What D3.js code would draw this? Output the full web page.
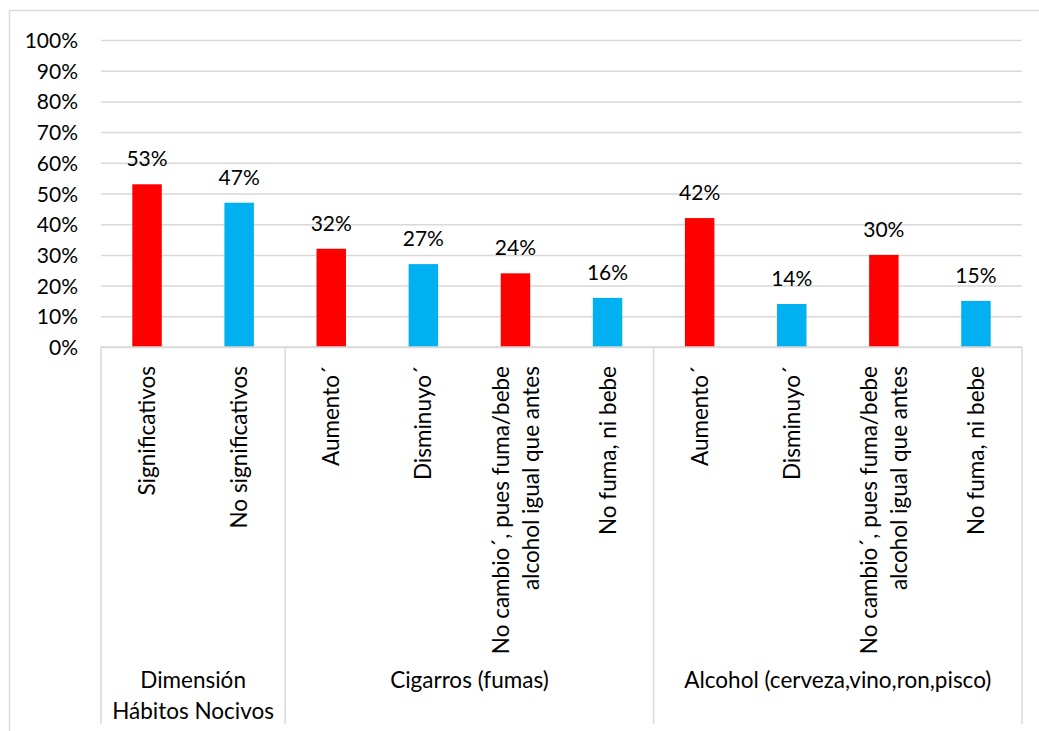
<!DOCTYPE html>
<html>
<head>
<meta charset="utf-8">
<script src="https://cdn.jsdelivr.net/npm/d3@7"></script>
<style>
  html, body { margin: 0; padding: 0; background: #fff; }
  svg { display: block; }
  text { font-family: Lato, "Open Sans", "Noto Sans", sans-serif; fill: #000; }
</style>
</head>
<body>
<svg id="chart" width="1039" height="731"></svg>
<script>
// Category labels (line breaks marked with \n), grouped under three headings
const categories = [
  "Significativos",
  "No significativos",
  "Aumento´",
  "Disminuyo´",
  "No cambio´, pues fuma/bebe\nalcohol igual que antes",
  "No fuma, ni bebe",
  "Aumento´",
  "Disminuyo´",
  "No cambio´, pues fuma/bebe\nalcohol igual que antes",
  "No fuma, ni bebe"
];
const values = [0.53, 0.47, 0.32, 0.27, 0.24, 0.16, 0.42, 0.14, 0.30, 0.15];
const barColors = ["#ff0000", "#00b0f0", "#ff0000", "#00b0f0", "#ff0000",
                   "#00b0f0", "#ff0000", "#00b0f0", "#ff0000", "#00b0f0"];
const groups = [
  { label: "Dimensión\nHábitos Nocivos", start: 0, end: 2 },
  { label: "Cigarros (fumas)", start: 2, end: 6 },
  { label: "Alcohol (cerveza,vino,ron,pisco)", start: 6, end: 10 }
];
const yTicks = [0, 0.1, 0.2, 0.3, 0.4, 0.5, 0.6, 0.7, 0.8, 0.9, 1.0];

const svg = d3.select("#chart");
const W = 1039, H = 731;
const plot = { left: 101, right: 1022, top: 40, bottom: 347 };
const gridColor = "#d9d9d9";
const numSize = 21;   // tick and value labels
const textSize = 22.5; // category and group labels

// Outer frame (runs past the right and bottom edges)
svg.append("rect")
  .attr("x", 9.5).attr("y", 10.5)
  .attr("width", W + 20).attr("height", H + 20)
  .attr("fill", "#fff").attr("stroke", gridColor).attr("stroke-width", 1.5);

const idx = d3.range(categories.length);
const x = d3.scaleBand().domain(idx).range([plot.left, plot.right]).paddingInner(0).paddingOuter(0);
const y = d3.scaleLinear().domain([0, 1]).range([plot.bottom, plot.top]);
const barW = x.bandwidth() * 0.32;

// Horizontal gridlines with percentage ticks
const yAxis = d3.axisLeft(y).tickValues(yTicks).tickFormat(d3.format(".0%"))
  .tickSize(-(plot.right - plot.left)).tickPadding(23);
const gy = svg.append("g").attr("transform", `translate(${plot.left},0)`).call(yAxis);
gy.select(".domain").remove();
gy.selectAll(".tick line").attr("stroke", gridColor).attr("stroke-width", 1.5);
gy.selectAll(".tick text")
  .attr("font-size", numSize).attr("font-family", "Lato, 'Open Sans', sans-serif")
  .attr("fill", "#000").attr("dy", "0.36em");

// Bars
svg.append("g").selectAll("rect").data(idx).join("rect")
  .attr("x", i => x(i) + x.bandwidth() / 2 - barW / 2)
  .attr("y", i => y(values[i]))
  .attr("width", barW)
  .attr("height", i => y(0) - y(values[i]))
  .attr("fill", i => barColors[i]);

// Value labels above bars
svg.append("g").selectAll("text").data(idx).join("text")
  .attr("x", i => x(i) + x.bandwidth() / 2)
  .attr("y", i => y(values[i]) - 18)
  .attr("text-anchor", "middle")
  .attr("font-size", numSize)
  .text(i => d3.format(".0%")(values[i]));

// Category axis: base line and group separators
const sepBottom = 724;
svg.append("line")
  .attr("x1", plot.left).attr("x2", plot.right)
  .attr("y1", plot.bottom).attr("y2", plot.bottom)
  .attr("stroke", gridColor).attr("stroke-width", 1.5);
const seps = [0, ...groups.map(g => g.end)];
svg.append("g").selectAll("line").data(seps).join("line")
  .attr("x1", d => d < categories.length ? x(d) : plot.right)
  .attr("x2", d => d < categories.length ? x(d) : plot.right)
  .attr("y1", plot.bottom).attr("y2", sepBottom)
  .attr("stroke", gridColor).attr("stroke-width", 1.5);

// Rotated category labels
const lineGap = 30;
const catG = svg.append("g");
idx.forEach(i => {
  const lines = categories[i].split("\n");
  const cx = x(i) + x.bandwidth() / 2;
  const t = catG.append("text")
    .attr("transform", `translate(${cx},366) rotate(-90)`)
    .attr("text-anchor", "end")
    .attr("font-size", textSize);
  lines.forEach((ln, k) => {
    t.append("tspan")
      .attr("x", 0)
      .attr("y", (k - (lines.length - 1) / 2) * lineGap)
      .attr("dy", "0.36em")
      .text(ln);
  });
});

// Group labels
const grpG = svg.append("g");
groups.forEach(g => {
  const cx = (x(g.start) + (g.end < categories.length ? x(g.end) : plot.right)) / 2;
  const lines = g.label.split("\n");
  const t = grpG.append("text").attr("text-anchor", "middle").attr("font-size", textSize);
  lines.forEach((ln, k) => {
    t.append("tspan").attr("x", cx).attr("y", 688 + k * 31).text(ln);
  });
});
</script>
</body>
</html>
